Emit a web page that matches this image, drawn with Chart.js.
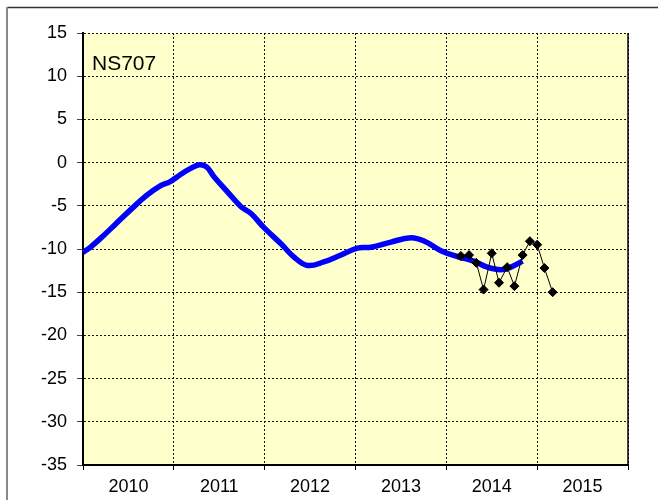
<!DOCTYPE html>
<html>
<head>
<meta charset="utf-8">
<script src="https://cdn.jsdelivr.net/npm/chart.js@4.4.0/dist/chart.umd.min.js"></script>
<style>
    html, body { margin: 0; padding: 0; background: #fff; }
    #wadah { width: 658px; height: 500px; }
</style>
</head>
<body>
<div id="wadah"><canvas id="grafikNS707"></canvas></div>
<script>
// data kurva halus (tahun desimal, nilai)
const tahunHalus = [2010.00, 2010.08, 2010.19, 2010.36, 2010.52, 2010.70, 2010.85, 2010.96, 2011.07, 2011.18,
    2011.28, 2011.36, 2011.44, 2011.60, 2011.74, 2011.85, 2011.99, 2012.18, 2012.32, 2012.47,
    2012.65, 2012.84, 2013.02, 2013.17, 2013.39, 2013.61, 2013.76, 2013.94, 2014.13, 2014.30,
    2014.45, 2014.60, 2014.71, 2014.84];
const nilaiHalus = [-10.4, -9.8, -8.8, -7.1, -5.5, -3.8, -2.7, -2.2, -1.4, -0.7,
    -0.25, -0.5, -1.6, -3.5, -5.1, -5.9, -7.5, -9.4, -10.9, -11.9,
    -11.5, -10.7, -9.9, -9.8, -9.2, -8.7, -9.1, -10.2, -10.9, -11.4,
    -12.1, -12.4, -12.1, -11.4];

// data pengukuran bulanan
const tahunUkur = [2014.16, 2014.25, 2014.33, 2014.41, 2014.50, 2014.58, 2014.67, 2014.75, 2014.84,
    2014.92, 2015.00, 2015.08, 2015.17];
const nilaiUkur = [-10.8, -10.7, -11.6, -14.7, -10.5, -13.9, -12.1, -14.3, -10.7,
    -9.1, -9.5, -12.2, -15.0];

const labelTahun = ['2010', '2011', '2012', '2013', '2014', '2015'];
const tickY = [15, 10, 5, 0, -5, -10, -15, -20, -25, -30, -35];
const judul = 'NS707';

function pasangan(xs, ys) {
    return xs.map(function (x, i) { return {x: x, y: ys[i]}; });
}

const pluginLatar = {
    id: 'pluginLatar',
    beforeDraw: function (chart) {
        const ctx = chart.ctx;
        const a = chart.chartArea;
        ctx.save();
        ctx.fillStyle = '#FFFFCC';
        ctx.fillRect(a.left, a.top, a.right - a.left, a.bottom - a.top);
        // bingkai luar
        ctx.strokeStyle = '#333';
        ctx.lineWidth = 1.5;
        ctx.beginPath();
        ctx.moveTo(7, 7.5);
        ctx.lineTo(658, 7.5);
        ctx.stroke();
        ctx.strokeStyle = '#888';
        ctx.lineWidth = 2;
        ctx.beginPath();
        ctx.moveTo(7, 7);
        ctx.lineTo(7, 500);
        ctx.stroke();
        ctx.restore();
    },
    afterDraw: function (chart) {
        const ctx = chart.ctx;
        const a = chart.chartArea;
        ctx.save();
        ctx.strokeStyle = '#000';
        ctx.lineWidth = 1.5;
        ctx.beginPath();
        ctx.moveTo(a.right, a.top);
        ctx.lineTo(a.right, a.bottom);
        ctx.stroke();
        ctx.fillStyle = '#000';
        ctx.font = '21px "Liberation Sans", Arial, sans-serif';
        ctx.textBaseline = 'alphabetic';
        ctx.fillText(judul, a.left + 9, a.top + 37);
        ctx.restore();
    }
};

new Chart('grafikNS707', {
    type: 'line',
    data: {
        datasets: [{
            label: 'halus',
            data: pasangan(tahunHalus, nilaiHalus),
            borderColor: '#0000FF',
            borderWidth: 5.5,
            pointRadius: 0,
            tension: 0.4,
            order: 2
        }, {
            label: 'ukur',
            data: pasangan(tahunUkur, nilaiUkur),
            borderColor: '#000',
            borderWidth: 1,
            pointStyle: 'rectRot',
            pointRadius: 4.5,
            pointBackgroundColor: '#000',
            pointBorderColor: '#000',
            tension: 0,
            order: 1
        }]
    },
    options: {
        responsive: true,
        maintainAspectRatio: false,
        animation: false,
        layout: { padding: { top: 33, right: 30, left: 0, bottom: 0 } },
        plugins: { legend: { display: false }, tooltip: { enabled: false } },
        scales: {
            x: {
                type: 'linear',
                min: 2010,
                max: 2016,
                afterFit: function (s) { s.height = 35; },
                afterBuildTicks: function (s) {
                    const t = [];
                    labelTahun.forEach(function (l, i) {
                        t.push({value: 2010 + i});
                        t.push({value: 2010.5 + i});
                    });
                    t.push({value: 2016});
                    s.ticks = t;
                },
                ticks: {
                    autoSkip: false,
                    maxRotation: 0,
                    padding: 6,
                    color: '#000',
                    font: { family: '"Liberation Sans", Arial, sans-serif', size: 18 },
                    callback: function (v) {
                        const i = Math.floor(v) - 2010;
                        return (v % 1 !== 0 && labelTahun[i]) ? labelTahun[i] : '';
                    }
                },
                grid: {
                    color: function (c) { return (c.tick && c.tick.value % 1 === 0) ? '#111' : 'rgba(0,0,0,0)'; },
                    tickColor: function (c) { return (c.tick && c.tick.value % 1 === 0) ? '#000' : 'rgba(0,0,0,0)'; },
                    tickLength: 5,
                    lineWidth: 1
                },
                border: { display: true, color: '#000', width: 2, dash: [2, 2] }
            },
            y: {
                min: -35,
                max: 15,
                afterFit: function (s) { s.width = 83; },
                afterBuildTicks: function (s) {
                    s.ticks = tickY.map(function (v) { return {value: v}; });
                },
                ticks: {
                    padding: 10,
                    color: '#000',
                    font: { family: '"Liberation Sans", Arial, sans-serif', size: 18 }
                },
                grid: {
                    color: '#111',
                    tickColor: '#444',
                    tickLength: 6,
                    lineWidth: 1
                },
                border: { display: true, color: '#000', width: 2, dash: [2, 2] }
            }
        }
    },
    plugins: [pluginLatar]
});
</script>
</body>
</html>
